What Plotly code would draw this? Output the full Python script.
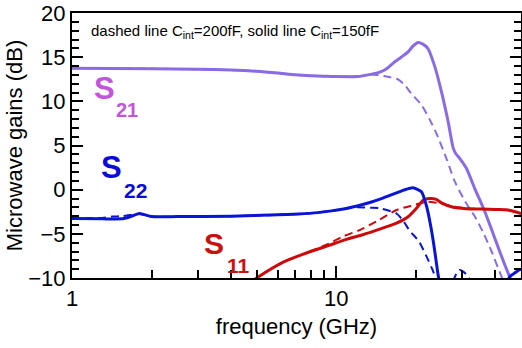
import math
import plotly.graph_objects as go

# ---------------- data ----------------
# S21, solid (C_int = 150 fF)
s21_solid_f = [1, 2, 3, 4, 5, 6, 7, 8, 9, 10, 12, 13.5, 14.6, 15.5, 16.6, 17.6, 18.7, 19.5,
               20.4, 21.2, 22.2, 23.5, 25.0, 26.5, 27.7, 28.3, 29.3, 31.1, 33.4, 36.5, 39.8,
               43.4, 45.3, 47.0]
s21_solid_db = [13.75, 13.7, 13.62, 13.55, 13.4, 13.2, 13.0, 12.9, 12.85, 12.8, 12.8, 13.05,
                13.3, 13.7, 14.45, 15.0, 15.6, 16.25, 16.66, 16.5, 16.0, 14.1, 11.1, 7.7,
                4.7, 4.1, 3.55, 2.4, 0.15, -2.5, -5.5, -8.5, -9.86, -11.0]

# S21, dashed (C_int = 200 fF)
s21_dash_f = [1, 2, 3, 4, 5, 6, 7, 8, 9, 10, 12, 13.5, 14.6, 15.5, 17.1, 18.2, 19.2, 21.0,
              22.6, 23.9, 26.1, 28.1, 31.1, 33.4, 35.9, 38.7, 42.0, 44.0]
s21_dash_db = [13.75, 13.7, 13.62, 13.55, 13.4, 13.2, 13.0, 12.9, 12.85, 12.8, 12.8, 13.05,
               12.95, 12.8, 12.5, 11.8, 10.9, 9.6, 7.9, 6.4, 3.55, 0.9, -1.6, -3.0, -4.8,
               -7.0, -9.7, -11.0]

# S22, solid
s22_solid_f = [1, 1.3, 1.55, 1.65, 1.8, 2.0, 2.5, 4, 6, 7.2, 8.5, 9.6, 10.8, 12.0, 13.4,
               15.0, 16.6, 18.0, 19.5, 21.0, 21.9, 22.6, 23.3, 23.9, 24.3, 24.8, None,
               44.0, 45.3, 47.0, 48.5, 50]
s22_solid_db = [-3.25, -3.3, -3.3, -3.1, -2.7, -3.05, -3.05, -3.0, -2.85, -2.75, -2.6, -2.4,
                -2.15, -1.85, -1.45, -0.95, -0.45, -0.05, 0.22, -0.24, -1.74, -3.6, -5.9,
                -8.2, -9.7, -11.0, None, -11.0, -9.86, -9.5, -9.2, -9.0]

# S22, dashed
s22_dash_f = [1, 1.3, 1.42, 1.55, 1.8, 2.0, 2.5, 4, 6, 7.2, 8.5, 9.6, 10.8, 11.9, 13.5,
              14.6, 16.9, 18.0, 18.9, 20.6, 21.9, 23.3, 24.0, None, 27.6, 28.5, 29.3, 30.3,
              31.5, 32.3]
s22_dash_db = [-3.25, -3.2, -3.05, -3.0, -2.75, -3.05, -3.05, -3.0, -2.85, -2.75, -2.6, -2.4,
               -2.15, -2.0, -2.05, -2.1, -2.7, -3.6, -4.6, -5.9, -7.5, -9.3, -10.5, None,
               -10.4, -9.5, -9.1, -9.3, -9.8, -10.4]

# S11, solid
s11_solid_f = [4.8, 5.0, 5.5, 6.3, 7.5, 9.4, 11.0, 12.6, 14.5, 16.9, 18.7, 20.0, 21.3, 22.4,
               23.9, 25.0, 27.7, 31.0, 35.4, 40.0, 44.7, 47.5, 50]
s11_solid_db = [-10.4, -10.0, -9.2, -8.2, -7.3, -6.3, -5.6, -5.1, -4.5, -3.8, -3.07, -2.2,
                -1.2, -1.0, -1.1, -1.5, -2.0, -2.15, -2.2, -2.25, -2.3, -2.5, -2.7]

# S11, dashed
s11_dash_f = [4.8, 5.0, 5.5, 6.3, 7.5, 9.4, 10.6, 12.2, 14.2, 16.9, 19.2, 22.2, 25.7, 28.1,
              31.0, 35.4, 40.0, 44.7, 47.5, 50]
s11_dash_db = [-10.4, -10.0, -9.2, -8.2, -7.3, -6.1, -5.3, -4.6, -3.6, -2.3, -1.82, -1.37,
               -1.67, -1.93, -2.1, -2.2, -2.25, -2.3, -2.5, -2.7]

x_range = [1, 50]
y_range = [-10, 20]
x_major = [1, 10]
x_major_text = ["1", "10"]
x_minor = [2, 3, 4, 5, 6, 7, 8, 9, 20, 30, 40]

# ---------------- styling ----------------
C21_LINE = "#8a6be6"
C22_LINE = "#0a14d6"
C11_LINE = "#cc0a0a"
C21_LBL = "#c354dc"
C22_LBL = "#0a0adc"
C11_LBL = "#cc1010"
FONT = "Arial, Liberation Sans, sans-serif"

fig = go.Figure()


def add(xs, ys, color, dashed):
    fig.add_trace(go.Scatter(
        x=xs, y=ys, mode="lines", connectgaps=False, showlegend=False,
        line=dict(color=color, width=2 if dashed else 3, shape="spline", smoothing=0.6,
                  dash="8px,5px" if dashed else "solid"),
        hoverinfo="skip"))


add(s21_dash_f, s21_dash_db, C21_LINE, True)
add(s22_dash_f, s22_dash_db, C22_LINE, True)
add(s11_dash_f, s11_dash_db, C11_LINE, True)
add(s21_solid_f, s21_solid_db, C21_LINE, False)
add(s11_solid_f, s11_solid_db, C11_LINE, False)
add(s22_solid_f, s22_solid_db, C22_LINE, False)

L, R, T, B = 72, 1, 13, 70
W, H = 522, 348
PW, PH = W - L - R, H - T - B


def px(X):
    return (X - L) / PW


def py(Y):
    return (H - B - Y) / PH


def label(text, X, Y, size, color):
    fig.add_annotation(text="<b>" + text + "</b>", xref="paper", yref="paper",
                       x=px(X), y=py(Y), xanchor="center", yanchor="middle",
                       showarrow=False,
                       font=dict(family=FONT, size=size, color=color))


label("S", 104, 88.5, 31, C21_LBL)
label("21", 127, 110, 20, C21_LBL)
label("S", 111, 167.5, 31, C22_LBL)
label("22", 135, 190.5, 21, C22_LBL)
label("S", 214, 243, 30, C11_LBL)
label("11", 238.5, 265.5, 21, C11_LBL)

fig.add_annotation(
    text="dashed line C<sub>int</sub>=200fF, solid line C<sub>int</sub>=150fF",
    xref="paper", yref="paper", x=px(89), y=py(32), xanchor="left", yanchor="middle",
    showarrow=False, font=dict(family=FONT, size=15, color="black"))

fig.update_layout(
    width=W, height=H, margin=dict(l=L, r=R, t=T, b=B, pad=0, autoexpand=False),
    paper_bgcolor="white", plot_bgcolor="white",
    font=dict(family=FONT, color="black"),
    xaxis=dict(
        type="log", range=[math.log10(x_range[0]), math.log10(x_range[1])],
        automargin=False,
        showgrid=False, zeroline=False, showline=True, linecolor="black", linewidth=2,
        mirror=True, ticks="inside", ticklen=12, tickwidth=2, tickcolor="black",
        tickmode="array", tickvals=x_major, ticktext=x_major_text,
        tickfont=dict(size=22, family=FONT),
        minor=dict(ticks="inside", ticklen=8, tickwidth=1.5, tickcolor="black",
                   tickmode="array", tickvals=x_minor, showgrid=False),
        title=dict(text="frequency (GHz)", font=dict(size=22, family=FONT), standoff=8),
    ),
    yaxis=dict(
        range=y_range, automargin=False,
        showgrid=False, zeroline=False, showline=True, linecolor="black",
        linewidth=2, mirror="ticks", ticks="inside", ticklen=11, tickwidth=2,
        tickcolor="black", tickmode="linear", tick0=-10, dtick=5,
        tickfont=dict(size=22, family=FONT),
        minor=dict(ticks="inside", ticklen=7, tickwidth=1.5, tickcolor="black",
                   dtick=1, showgrid=False),
        title=dict(text="Microwave gains (dB)", font=dict(size=22, family=FONT), standoff=0),
    ),
)

fig.write_html("out.html", config={"responsive": False, "displayModeBar": False},
               post_script="document.body.style.margin='0';document.body.style.padding='0';")
